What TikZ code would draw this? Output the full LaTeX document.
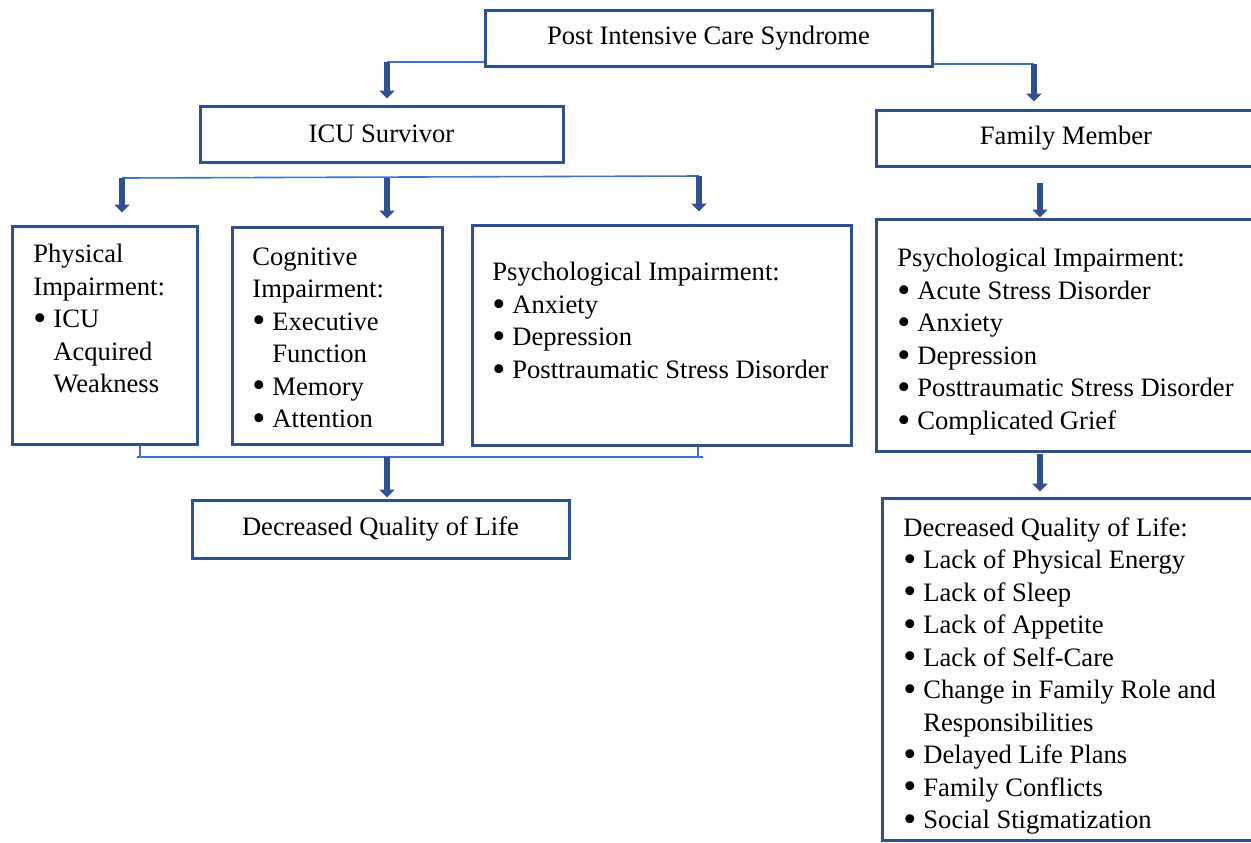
\documentclass[tikz,border=0pt]{standalone}
\usepackage{fontspec}
\usepackage{graphicx}
\setmainfont{Liberation Serif}
\usetikzlibrary{arrows.meta}
\definecolor{boxblue}{RGB}{47,82,143}
\definecolor{lineblue}{RGB}{68,114,196}
\newcommand{\bul}{\makebox[10pt][l]{\smash{\raisebox{-1.4pt}{\scalebox{1.4}{\textbullet}}}}}
\newcommand{\ind}{\hspace*{10pt}}
\tikzset{
  box/.style={draw=boxblue, line width=1.5pt, inner sep=0pt, font=\fontsize{13.3}{16.25}\selectfont},
  txt/.style={align=left, inner sep=0pt, anchor=north west, font=\fontsize{13.3}{16.25}\selectfont},
  link/.style={draw=lineblue, line width=0.8pt},
  blockarrow/.style={draw=boxblue, line width=2.6pt, -{Triangle[length=4pt,width=7.5pt]}},
}
\begin{document}
\begin{tikzpicture}[x=0.5pt,y=-0.5pt]
    \useasboundingbox (0,0) rectangle (1251,842);
    % boxes
    \node[box, minimum width=223.5pt, minimum height=28pt] (pics) at (708.5,38) {Post Intensive Care Syndrome};
    \node[box, minimum width=181.5pt, minimum height=28pt] (icu) at (381.5,134) {ICU Survivor};
    \node[box, minimum width=190pt, minimum height=28pt] (fam) at (1066,138) {Family Member};
    \node[box, minimum width=92.5pt, minimum height=109pt] (phys) at (104.5,335) {};
    \node[box, minimum width=105pt, minimum height=108.5pt] (cog) at (337,335.5) {};
    \node[box, minimum width=189.5pt, minimum height=110pt] (psy) at (661.5,335) {};
    \node[box, minimum width=190pt, minimum height=116pt] (fpsy) at (1066,335) {};
    \node[box, minimum width=188.5pt, minimum height=29pt] (qol) at (380.5,529) {Decreased Quality of Life};
    \node[box, minimum width=187pt, minimum height=171pt] (fqol) at (1069,669) {};
    % box texts
    \node[txt] (physT) at (33,244) {Physical\\Impairment:\\\bul ICU\\\ind Acquired\\\ind Weakness};
    \node[txt] (cogT) at (252,247) {Cognitive\\Impairment:\\\bul Executive\\\ind Function\\\bul Memory\\\bul Attention};
    \node[txt] (psyT) at (492,262) {Psychological Impairment:\\\bul Anxiety\\\bul Depression\\\bul Posttraumatic Stress Disorder};
    \node[txt] (fpsyT) at (897,248) {Psychological Impairment:\\\bul Acute Stress Disorder\\\bul Anxiety\\\bul Depression\\\bul Posttraumatic Stress Disorder\\\bul Complicated Grief};
    \node[txt] (fqolT) at (903,517) {Decreased Quality of Life:\\\bul Lack of Physical Energy\\\bul Lack of Sleep\\\bul Lack of Appetite\\\bul Lack of Self-Care\\\bul Change in Family Role and\\\ind Responsibilities\\\bul Delayed Life Plans\\\bul Family Conflicts\\\bul Social Stigmatization};
    % top connectors
    \coordinate (c1) at (387,62);
    \coordinate (c2) at (1034,64);
    \draw[link] (pics.west |- c1) -- (c1);
    \draw[blockarrow] (c1) -- ([yshift=3pt]c1 |- icu.north);
    \draw[link] (pics.east |- c2) -- (c2);
    \draw[blockarrow] (c2) -- ([yshift=3.5pt]c2 |- fam.north);
    % survivor bar
    \coordinate (c3) at (122,178);
    \coordinate (c4) at (387,178);
    \coordinate (c5) at (699,176);
    \draw[link] (c3) -- (c5);
    \draw[blockarrow] (c3) -- ([yshift=6pt]c3 |- phys.north);
    \draw[blockarrow] (c4) -- ([yshift=3.5pt]c4 |- cog.north);
    \draw[blockarrow] (c5) -- ([yshift=6pt]c5 |- psy.north);
    % bottom bar
    \coordinate (b1) at (140,457);
    \coordinate (b2) at (387,457);
    \coordinate (b3) at (698,457);
    \draw[link] (b1 |- phys.south) -- (b1);
    \draw[link] (b3 |- psy.south) -- (b3);
    \draw[link] ([xshift=-1.5pt]b1) -- ([xshift=2.5pt]b3);
    \draw[blockarrow] (b2) -- ([yshift=0.5pt]b2 |- qol.north);
    % family side
    \coordinate (f1) at (1040,183);
    \coordinate (f2) at (1040,454);
    \draw[blockarrow] (f1) -- (f1 |- fpsy.north);
    \draw[blockarrow] (f2) -- ([yshift=2.5pt]f2 |- fqol.north);
\end{tikzpicture}
\end{document}
